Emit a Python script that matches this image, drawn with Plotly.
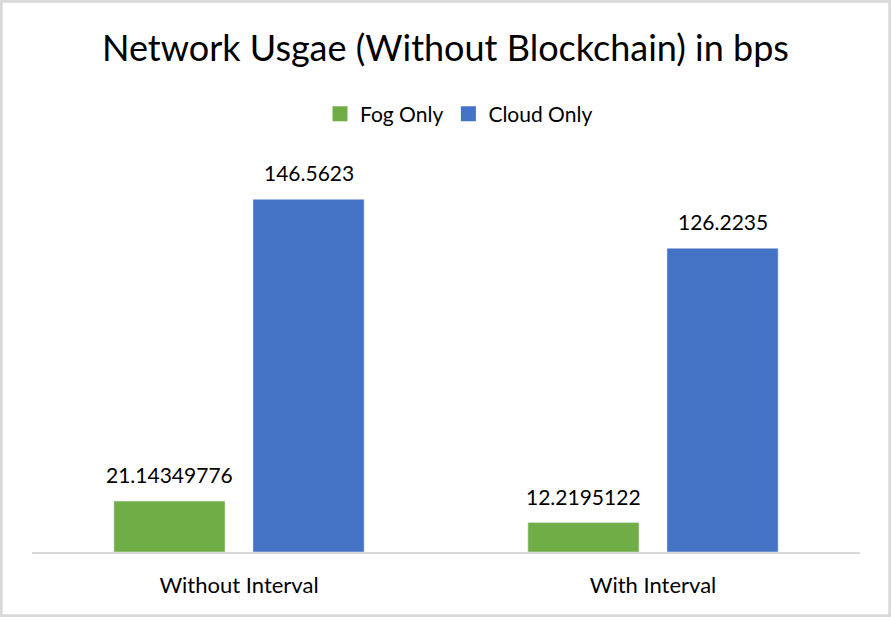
import plotly.graph_objects as go

categories = ["Without Interval", "With Interval"]
fog_only = [21.14349776, 12.2195122]
cloud_only = [146.5623, 126.2235]
fog_labels = ["21.14349776", "12.2195122"]
cloud_labels = ["146.5623", "126.2235"]

GREEN = "#70AD47"
BLUE = "#4472C4"
FONT = "Lato"

W, H = 891, 621
L, R, T, B = 32, 31, 167, 69
pw, ph = W - L - R, H - T - B

fig = go.Figure()
fig.add_trace(go.Bar(x=categories, y=fog_only, marker_color=GREEN, name="Fog Only", showlegend=False))
fig.add_trace(go.Bar(x=categories, y=cloud_only, marker_color=BLUE, name="Cloud Only", showlegend=False))
# legend entries with square markers
fig.add_trace(go.Scatter(x=[None], y=[None], mode="markers", name="Fog Only",
                         marker=dict(symbol="square", size=15, color=GREEN)))
fig.add_trace(go.Scatter(x=[None], y=[None], mode="markers", name="Cloud Only",
                         marker=dict(symbol="square", size=15, color=BLUE)))

for cat, v, lab in zip(categories, fog_only, fog_labels):
    fig.add_annotation(x=cat, y=v, text=lab, showarrow=False, xshift=-69.5, yshift=26.5,
                       yanchor="middle", font=dict(family=FONT, size=21, color="#000000"))
for cat, v, lab in zip(categories, cloud_only, cloud_labels):
    fig.add_annotation(x=cat, y=v, text=lab, showarrow=False, xshift=69.5, yshift=26.5,
                       yanchor="middle", font=dict(family=FONT, size=21, color="#000000"))

def px_x(p):
    return (p - L) / pw

def px_y(p):
    return (H - B - p) / ph

fig.add_shape(type="rect", xref="paper", yref="paper",
              x0=px_x(1.35), x1=px_x(889.65), y0=px_y(1.35), y1=px_y(615.65),
              line=dict(color="#D9D9D9", width=2.7), fillcolor="rgba(0,0,0,0)", layer="below")

fig.update_layout(
    width=W, height=H,
    margin=dict(l=L, r=R, t=T, b=B),
    paper_bgcolor="white", plot_bgcolor="white",
    barmode="group", bargap=0.328, bargroupgap=0.201,
    title=dict(text="Network Usgae (Without Blockchain) in bps", x=0.5, xanchor="center",
               y=1 - 48 / H, yanchor="middle",
               font=dict(family=FONT, size=36, color="#000000")),
    legend=dict(orientation="h", xref="container", yref="container",
                x=459 / W, xanchor="center", y=1 - 114 / H, yanchor="middle",
                font=dict(family=FONT, size=21, color="#000000"), itemwidth=30),
    font=dict(family=FONT, color="#000000"),
    showlegend=True,
)
fig.update_xaxes(showline=True, linecolor="#D9D9D9", linewidth=2, showgrid=False, ticks="",
                 tickfont=dict(family=FONT, size=22, color="#000000"), ticklabelstandoff=13)
fig.update_yaxes(range=[0, 160], visible=False, showgrid=False, zeroline=False)

fig.write_html("out.html")
